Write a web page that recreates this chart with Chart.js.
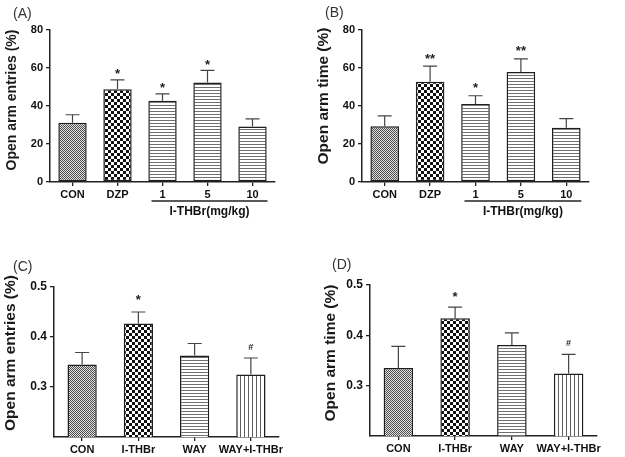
<!DOCTYPE html>
<html>
<head>
<meta charset="utf-8">
<script src="https://cdn.jsdelivr.net/npm/chart.js@4.4.1/dist/chart.umd.min.js"></script>
<style>
  html, body { margin: 0; padding: 0; background: #fff; }
  body { width: 625px; height: 457px; position: relative; overflow: hidden; }
  canvas { position: absolute; }
</style>
</head>
<body>
<canvas id="cA" width="310" height="228" style="left:0px;top:0px"></canvas>
<canvas id="cB" width="315" height="228" style="left:310px;top:0px"></canvas>
<canvas id="cC" width="310" height="229" style="left:0px;top:228px"></canvas>
<canvas id="cD" width="307" height="229" style="left:318px;top:228px"></canvas>
<script>
// ---------------- DATA ----------------
const catsAB = ['CON', 'DZP', '1', '5', '10'];
const entriesA = [31.2, 48.8, 42.8, 52.4, 29.2];
const semA = [4.2, 5.0, 3.6, 6.3, 4.0];
const sigA = ['', '*', '*', '*', ''];

const timeB = [29.4, 52.7, 41.0, 57.9, 28.5];
const semB = [5.4, 8.3, 4.4, 6.9, 4.9];
const sigB = ['', '**', '*', '**', ''];

const catsCD = ['CON', 'I-THBr', 'WAY', 'WAY+I-THBr'];
const entriesC = [0.345, 0.427, 0.363, 0.325];
const semC = [0.024, 0.023, 0.024, 0.033];
const sigC = ['', '*', '', '#'];

const timeD = [0.335, 0.434, 0.381, 0.324];
const semD = [0.043, 0.022, 0.024, 0.038];
const sigD = ['', '*', '', '#'];

const groupLabel = 'I-THBr(mg/kg)';

// ---------------- PATTERNS ----------------
function pat(w, h, draw) {
  const c = document.createElement('canvas');
  c.width = w; c.height = h;
  const g = c.getContext('2d');
  g.fillStyle = '#fff'; g.fillRect(0, 0, w, h);
  draw(g);
  return document.createElement('canvas').getContext('2d').createPattern(c, 'repeat');
}
const fineCheck = pat(2, 2, g => {
  g.fillStyle = '#e2e2e2'; g.fillRect(0, 0, 2, 2);
  g.fillStyle = '#4c4c4c'; g.fillRect(0, 0, 1, 1); g.fillRect(1, 1, 1, 1);
});
const boldCheck = pat(6, 6, g => {
  g.fillStyle = '#111'; g.fillRect(0, 0, 3, 3); g.fillRect(3, 3, 3, 3);
});
const hStripe = pat(3, 3, g => {
  g.fillStyle = '#707070'; g.fillRect(0, 0, 3, 1);
});
const vStripe = pat(4, 4, g => {
  g.fillStyle = '#606060'; g.fillRect(0, 0, 1, 4);
});

const FONT = "'Liberation Sans', Arial, sans-serif";

function makePanel(o) {
  const canvas = document.getElementById(o.id);
  const decor = {
    id: 'decor' + o.id,
    afterDatasetsDraw(chart) {
      const ctx = chart.ctx;
      const meta = chart.getDatasetMeta(0);
      const ys = chart.scales.y;
      ctx.save();
      meta.data.forEach((bar, i) => {
        const x = bar.x;
        const yt = bar.y;
        const ye = ys.getPixelForValue(o.values[i] + o.sem[i]);
        ctx.strokeStyle = '#444';
        ctx.lineWidth = 1.2;
        ctx.beginPath();
        ctx.moveTo(x, yt); ctx.lineTo(x, ye);
        ctx.moveTo(x - 7, ye); ctx.lineTo(x + 7, ye);
        ctx.stroke();
        const s = o.sig[i];
        if (s) {
          ctx.fillStyle = '#222';
          ctx.textAlign = 'center';
          ctx.textBaseline = 'alphabetic';
          if (s[0] === '*') {
            ctx.font = 'bold 13px ' + FONT;
            ctx.fillText(s, x, ye - o.starGap + 0.57 * 13);
          } else {
            ctx.font = 'bold 9px ' + FONT;
            ctx.fillText(s, x, ye - o.hashGap + 0.36 * 9);
          }
        }
      });
      ctx.restore();
    },
    afterDraw(chart) {
      const ctx = chart.ctx;
      ctx.save();
      // panel letter
      ctx.fillStyle = '#333';
      ctx.font = '14px ' + FONT;
      ctx.textAlign = 'left';
      ctx.textBaseline = 'middle';
      ctx.fillText(o.letter, o.letterPos[0], o.letterPos[1]);
      // y title
      ctx.save();
      ctx.translate(o.titlePos[0], o.titlePos[1]);
      ctx.rotate(-Math.PI / 2);
      ctx.fillStyle = '#1a1a1a';
      ctx.font = 'bold ' + o.titleSize + 'px ' + FONT;
      ctx.textAlign = 'center';
      ctx.textBaseline = 'middle';
      ctx.fillText(o.title, 0, 0);
      ctx.restore();
      // group underline
      if (o.group) {
        const xs = chart.scales.x;
        const x1 = xs.getPixelForValue(2) - 11;
        const x2 = xs.getPixelForValue(4) + 15;
        const y = chart.chartArea.bottom + 19;
        ctx.strokeStyle = '#222';
        ctx.lineWidth = 1.3;
        ctx.beginPath();
        ctx.moveTo(x1, y); ctx.lineTo(x2, y);
        ctx.stroke();
        ctx.fillStyle = '#111';
        ctx.font = 'bold 12px ' + FONT;
        ctx.textAlign = 'center';
        ctx.textBaseline = 'middle';
        ctx.fillText(o.group, (x1 + x2) / 2, y + 11);
      }
      ctx.restore();
    }
  };
  return new Chart(canvas, {
    type: 'bar',
    data: {
      labels: o.labels,
      datasets: [{
        data: o.values,
        backgroundColor: o.fills,
        borderColor: '#1e1e1e',
        borderWidth: 1.5,
        borderSkipped: false,
        barPercentage: o.barPct,
        categoryPercentage: 1
      }]
    },
    options: {
      responsive: false,
      animation: false,
      layout: { padding: { top: o.pad[0], right: o.pad[1], bottom: 0, left: 0 } },
      plugins: { legend: { display: false }, tooltip: { enabled: false } },
      scales: {
        x: {
          offset: true,
          grid: { display: true, drawOnChartArea: false, drawTicks: true, tickLength: 4, offset: false, color: '#222', lineWidth: 1.3 },
          border: { display: true, color: '#222', width: 1.5 },
          ticks: { color: '#111', font: { family: FONT, weight: 'bold', size: 11 }, padding: 2, maxRotation: 0, autoSkip: false },
          afterFit: s => { s.height = o.xH; }
        },
        y: {
          min: o.yMin, max: o.yMax,
          grid: {
            display: true, drawOnChartArea: false, drawTicks: true, tickLength: 4, lineWidth: 1.3,
            color: c => (o.hideMin && c.tick && Math.abs(c.tick.value - o.yMin) < 1e-9) ? 'rgba(0,0,0,0)' : '#222'
          },
          border: { display: true, color: '#222', width: 1.5 },
          ticks: {
            stepSize: o.step,
            color: '#111',
            padding: 3,
            font: { family: FONT, weight: 'bold', size: o.tickSize },
            callback: v => (o.hideMin && Math.abs(v - o.yMin) < 1e-9) ? '' : (o.dec ? Number(v).toFixed(o.dec) : String(v))
          },
          afterFit: s => { s.width = o.yW; }
        }
      }
    },
    plugins: [decor]
  });
}

makePanel({
  id: 'cA', labels: catsAB, values: entriesA, sem: semA, sig: sigA,
  fills: [fineCheck, boldCheck, hStripe, hStripe, hStripe],
  yMin: 0, yMax: 80, step: 20, dec: 0, hideMin: false, tickSize: 11,
  pad: [30, 35], yW: 50, xH: 46, barPct: 0.63,
  letter: '(A)', letterPos: [13, 14],
  title: 'Open arm entries (%)', titlePos: [12, 100], titleSize: 14,
  starGap: 9, hashGap: 11, group: groupLabel
});
makePanel({
  id: 'cB', labels: catsAB, values: timeB, sem: semB, sig: sigB,
  fills: [fineCheck, boldCheck, hStripe, hStripe, hStripe],
  yMin: 0, yMax: 80, step: 20, dec: 0, hideMin: false, tickSize: 11,
  pad: [30, 36], yW: 52, xH: 46, barPct: 0.63,
  letter: '(B)', letterPos: [15, 13],
  title: 'Open arm time (%)', titlePos: [14, 96], titleSize: 15.5,
  starGap: 11, hashGap: 11, group: groupLabel
});
makePanel({
  id: 'cC', labels: catsCD, values: entriesC, sem: semC, sig: sigC,
  fills: [fineCheck, boldCheck, hStripe, vStripe],
  yMin: 0.2, yMax: 0.5, step: 0.1, dec: 1, hideMin: true, tickSize: 12,
  pad: [59, 31], yW: 54, xH: 20, barPct: 0.52,
  letter: '(C)', letterPos: [13, 39],
  title: 'Open arm entries (%)', titlePos: [11, 125], titleSize: 15.5,
  starGap: 15, hashGap: 11, group: null
});
makePanel({
  id: 'cD', labels: catsCD, values: timeD, sem: semD, sig: sigD,
  fills: [fineCheck, boldCheck, hStripe, vStripe],
  yMin: 0.2, yMax: 0.5, step: 0.1, dec: 1, hideMin: true, tickSize: 12,
  pad: [57, 28], yW: 52, xH: 21, barPct: 0.52,
  letter: '(D)', letterPos: [14, 37],
  title: 'Open arm time (%)', titlePos: [13, 125], titleSize: 15.5,
  starGap: 13.5, hashGap: 11.5, group: null
});
</script>
</body>
</html>
